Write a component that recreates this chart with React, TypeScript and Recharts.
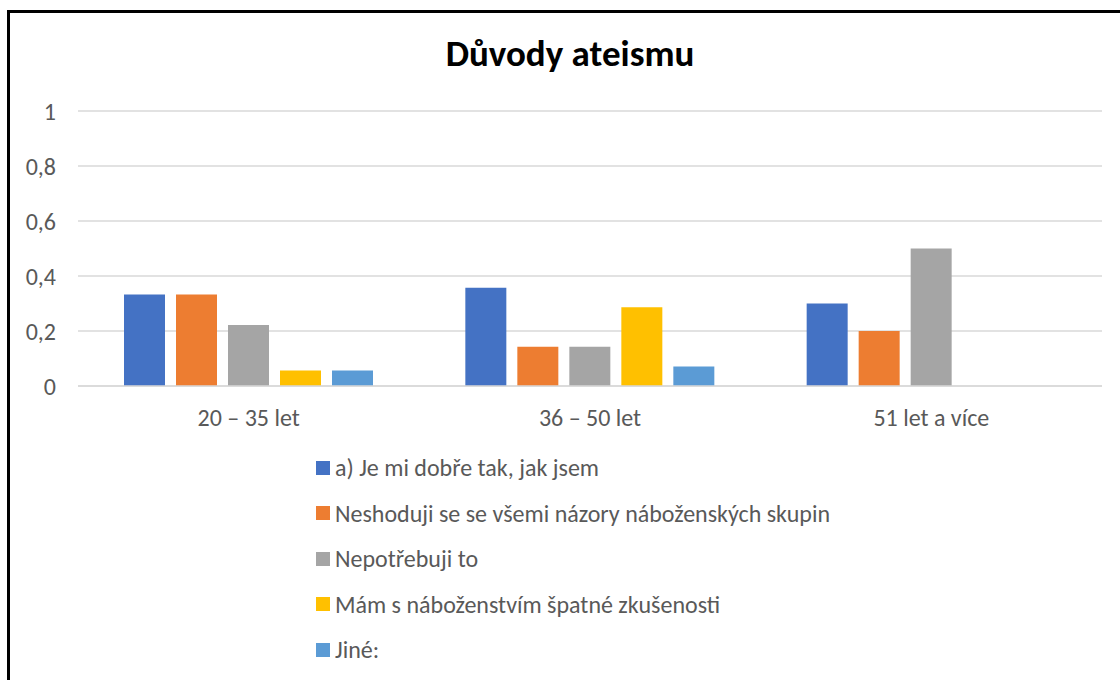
import React from 'react';
import { BarChart, Bar, XAxis, YAxis, CartesianGrid, Legend } from 'recharts';

const categories = ['20 – 35 let', '36 – 50 let', '51 let a více'];
const seriesNames = [
  'a) Je mi dobře tak, jak jsem',
  'Neshoduji se se všemi názory náboženských skupin',
  'Nepotřebuji to',
  'Mám s náboženstvím špatné zkušenosti',
  'Jiné:',
];
const seriesColors = ['#4472C4', '#ED7D31', '#A5A5A5', '#FFC000', '#5B9BD5'];
const dobreTak = [0.333, 0.357, 0.3];
const neshoduji = [0.333, 0.143, 0.2];
const nepotrebuji = [0.222, 0.143, 0.5];
const spatneZkusenosti = [0.056, 0.286, 0];
const jine = [0.056, 0.071, 0];
const yTicks = [0, 0.2, 0.4, 0.6, 0.8, 1];

const seriesValues = [dobreTak, neshoduji, nepotrebuji, spatneZkusenosti, jine];
const keys = ['s0', 's1', 's2', 's3', 's4'];

const data = categories.map((name, i) => {
  const row: Record<string, string | number> = { name };
  keys.forEach((k, j) => {
    row[k] = seriesValues[j][i];
  });
  return row;
});

const FONT = "Carlito, Calibri, Lato, 'Liberation Sans', sans-serif";
const TEXT = '#595959';

const LegendList = () => (
  <div style={{ fontFamily: FONT, fontSize: 24, color: TEXT }}>
    {seriesNames.map((n, i) => (
      <div key={n} style={{ display: 'flex', alignItems: 'center', height: 45.5 }}>
        <span style={{ width: 14, height: 14, background: seriesColors[i], marginRight: 5, display: 'inline-block' }} />
        <span>{n}</span>
      </div>
    ))}
  </div>
);

export default function App() {
  return (
    <div style={{ position: 'absolute', left: 0, top: 0, width: 1120, height: 680, background: '#fff', overflow: 'hidden' }}>
      <div style={{ position: 'absolute', left: 7, top: 10, width: 1113, height: 670, borderLeft: '3px solid #000', borderTop: '3px solid #000' }} />
      <div style={{ position: 'absolute', left: 0, top: 31, width: 1140, textAlign: 'center', fontFamily: FONT, fontWeight: 'bold', fontSize: 37, color: '#000' }}>
        Důvody ateismu
      </div>
      <div style={{ position: 'absolute', left: 0, top: 0 }}>
        <BarChart
          width={1120}
          height={680}
          data={data}
          margin={{ top: 111, right: 18, left: 18, bottom: 264 }}
          barCategoryGap="13.5%"
          barGap={11}
        >
          <CartesianGrid vertical={false} stroke="#d9d9d9" strokeWidth={1.5} />
          <XAxis
            dataKey="name"
            axisLine={{ stroke: '#d9d9d9', strokeWidth: 1.5 }}
            tickLine={false}
            height={30}
            tick={{ fill: TEXT, fontSize: 24, fontFamily: FONT, dy: 15 }}
          />
          <YAxis
            domain={[0, 1]}
            ticks={yTicks}
            width={60}
            axisLine={false}
            tickLine={false}
            tickFormatter={(v: number) => String(v).replace('.', ',')}
            tick={{ fill: TEXT, fontSize: 24, fontFamily: FONT, dx: -14 }}
          />
          <Legend
            layout="horizontal"
            verticalAlign="middle"
            align="center"
            wrapperStyle={{ left: 316, top: 445, width: 700 }}
            content={() => <LegendList />}
          />
          {keys.map((k, i) => (
            <Bar key={k} dataKey={k} name={seriesNames[i]} fill={seriesColors[i]} barSize={41} isAnimationActive={false} />
          ))}
        </BarChart>
      </div>
    </div>
  );
}
